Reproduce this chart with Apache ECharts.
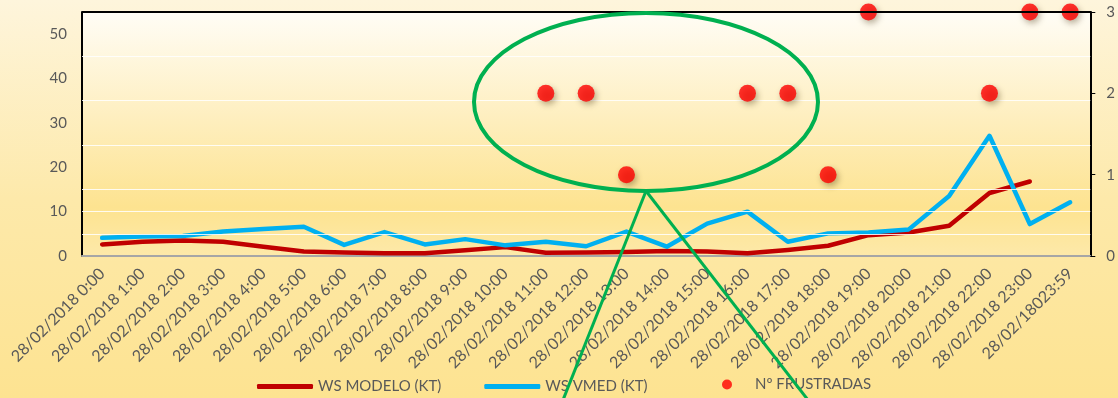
<!DOCTYPE html>
<html>
<head>
<meta charset="utf-8">
<script src="https://cdn.jsdelivr.net/npm/echarts@6/dist/echarts.min.js"></script>
<style>
  html, body { margin: 0; padding: 0; }
  #chart { width: 1118px; height: 398px; }
</style>
</head>
<body>
<div id="chart"></div>
<script>
// Hourly timestamps for 28/02/2018
const categories = [
  '28/02/2018 0:00', '28/02/2018 1:00', '28/02/2018 2:00', '28/02/2018 3:00',
  '28/02/2018 4:00', '28/02/2018 5:00', '28/02/2018 6:00', '28/02/2018 7:00',
  '28/02/2018 8:00', '28/02/2018 9:00', '28/02/2018 10:00', '28/02/2018 11:00',
  '28/02/2018 12:00', '28/02/2018 13:00', '28/02/2018 14:00', '28/02/2018 15:00',
  '28/02/2018 16:00', '28/02/2018 17:00', '28/02/2018 18:00', '28/02/2018 19:00',
  '28/02/2018 20:00', '28/02/2018 21:00', '28/02/2018 22:00', '28/02/2018 23:00',
  '28/02/18023:59'
];

// Modelled wind speed (kt)
const wsModelo = [2.6, 3.2, 3.5, 3.2, 2.1, 1.0, 0.8, 0.6, 0.6, 1.3, 2.0, 0.75,
  0.8, 0.9, 1.1, 1.0, 0.6, 1.35, 2.3, 4.7, 5.3, 6.8, 14.2, 16.8, null];

// Measured mean wind speed (kt)
const wsVmed = [4.1, 4.4, 4.5, 5.5, 6.1, 6.6, 2.5, 5.4, 2.6, 3.8, 2.4, 3.2,
  2.2, 5.5, 2.1, 7.3, 10.0, 3.2, 5.1, 5.3, 6.0, 13.5, 27.1, 7.2, 12.1];

// Number of aborted operations per hour (right axis)
const frustradas = [null, null, null, null, null, null, null, null, null, null, null, 2,
  2, 1, null, null, 2, 2, 1, 3, null, null, 2, 3, 3];

// Left-axis levels that carry a light guide line
const guideLevels = [5, 10, 15, 25, 35, 45];

const leftTicks = { min: 0, max: 55, interval: 10 };
const rightTicks = { min: 0, max: 3, interval: 1 };

const textColor = '#595959';
const font = 'Lato, "Open Sans", sans-serif';

const chart = echarts.init(document.getElementById('chart'), null, { renderer: 'canvas' });

const option = {
  animation: false,
  backgroundColor: new echarts.graphic.LinearGradient(0, 0, 0, 1, [
    { offset: 0, color: '#fef5dc' },
    { offset: 0.5, color: '#fde9aa' },
    { offset: 1, color: '#fde391' }
  ]),
  textStyle: { fontFamily: font },
  grid: {
    left: 82, right: 27, top: 12, bottom: 142,
    show: true,
    borderWidth: 0,
    backgroundColor: new echarts.graphic.LinearGradient(0, 0, 0, 1, [
      { offset: 0, color: '#fffdf6' },
      { offset: 0.45, color: '#feeebd' },
      { offset: 0.8, color: '#fde390' },
      { offset: 1, color: '#fde9a9' }
    ])
  },
  legend: [
    {
      data: [
        { name: 'WS MODELO (KT)', icon: 'roundRect' },
        { name: 'WS VMED (KT)', icon: 'roundRect' }
      ],
      left: 252, top: 374,
      itemWidth: 56, itemHeight: 5, itemGap: 43,
      textStyle: { color: textColor, fontSize: 15, fontFamily: font }
    },
    {
      data: [{ name: 'Nº FRUSTRADAS', icon: 'circle' }],
      left: 717, top: 372,
      itemWidth: 46, itemHeight: 10,
      textStyle: { color: textColor, fontSize: 15, fontFamily: font }
    }
  ],
  xAxis: {
    type: 'category',
    data: categories,
    boundaryGap: true,
    axisLine: { lineStyle: { color: '#a6a6a6', width: 2 } },
    axisTick: { show: false },
    axisLabel: {
      rotate: 45, interval: 0, margin: 15,
      color: textColor, fontSize: 16, fontFamily: font
    },
    splitLine: { show: false }
  },
  yAxis: [
    {
      type: 'value',
      min: leftTicks.min, max: leftTicks.max, interval: leftTicks.interval,
      axisLine: { show: true, lineStyle: { color: '#000', width: 2 } },
      axisTick: { show: false },
      axisLabel: { color: textColor, fontSize: 15, fontFamily: font, margin: 15, showMaxLabel: false },
      splitLine: { show: false }
    },
    {
      type: 'value',
      position: 'right',
      min: rightTicks.min, max: rightTicks.max, interval: rightTicks.interval,
      axisLine: { show: true, lineStyle: { color: '#000', width: 2 } },
      axisTick: { show: true, inside: false, length: 5, lineStyle: { color: '#000', width: 1 } },
      axisLabel: { color: textColor, fontSize: 15, fontFamily: font, margin: 16 },
      splitLine: { show: false }
    }
  ],
  series: [
    {
      name: 'WS MODELO (KT)',
      type: 'line',
      yAxisIndex: 0,
      data: wsModelo,
      symbol: 'none',
      z: 3,
      lineStyle: { color: '#c00000', width: 4.5, cap: 'round', join: 'round' },
      itemStyle: { color: '#c00000' },
      markLine: {
        silent: true,
        symbol: 'none',
        label: { show: false },
        lineStyle: { color: 'rgba(255,255,255,0.85)', width: 1.2, type: 'solid' },
        data: guideLevels.map(v => ({ yAxis: v }))
      }
    },
    {
      name: 'WS VMED (KT)',
      type: 'line',
      yAxisIndex: 0,
      data: wsVmed,
      symbol: 'none',
      z: 4,
      lineStyle: { color: '#00b0f0', width: 4.5, cap: 'round', join: 'round' },
      itemStyle: { color: '#00b0f0' }
    },
    {
      name: 'Nº FRUSTRADAS',
      type: 'scatter',
      yAxisIndex: 1,
      data: frustradas,
      symbol: 'circle',
      symbolSize: 17,
      z: 5,
      itemStyle: {
        color: '#ff0000',
        shadowColor: 'rgba(60,40,0,0.45)',
        shadowBlur: 6,
        shadowOffsetX: 2,
        shadowOffsetY: 3
      }
    }
  ],
  graphic: [
    // top frame edge of the plot area
    {
      type: 'line', z: 10, silent: true,
      shape: { x1: 82, y1: 12, x2: 1091, y2: 12 },
      style: { stroke: '#000', lineWidth: 2 }
    },
    // callout ring and its pointer lines
    {
      type: 'ellipse', z: 20, silent: true,
      shape: { cx: 646, cy: 102, rx: 172, ry: 89 },
      style: { fill: null, stroke: '#00b050', lineWidth: 4 }
    },
    {
      type: 'line', z: 20, silent: true,
      shape: { x1: 646, y1: 191, x2: 563, y2: 400 },
      style: { stroke: '#00b050', lineWidth: 3 }
    },
    {
      type: 'line', z: 20, silent: true,
      shape: { x1: 646, y1: 191, x2: 808, y2: 400 },
      style: { stroke: '#00b050', lineWidth: 3 }
    }
  ]
};

chart.setOption(option);
</script>
</body>
</html>
